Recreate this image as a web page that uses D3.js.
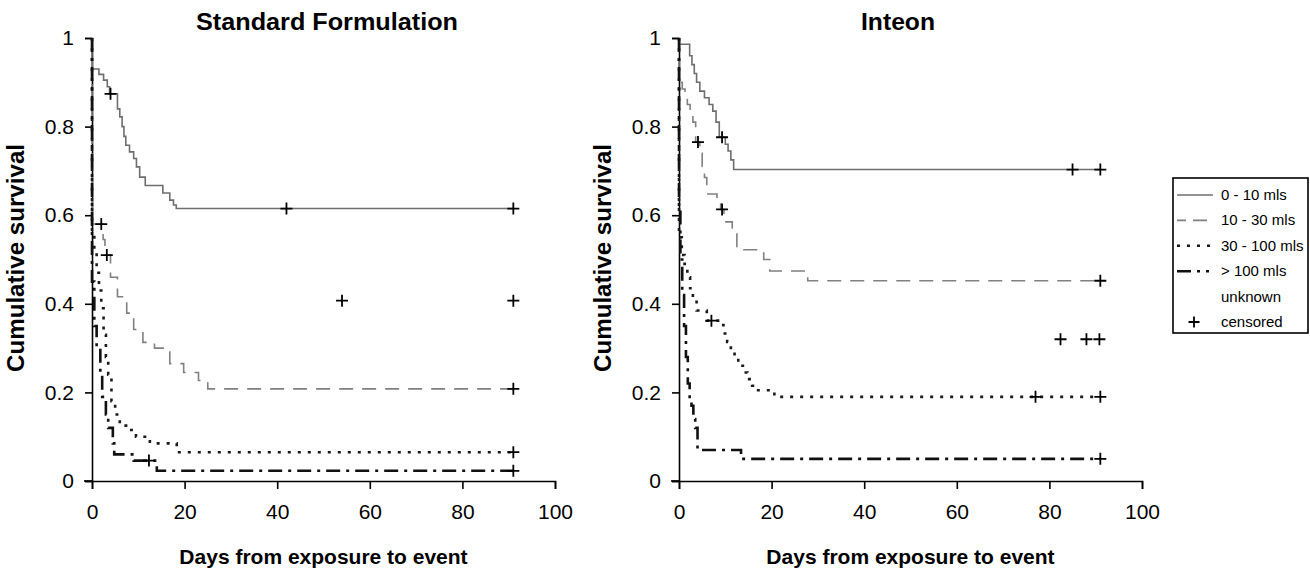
<!DOCTYPE html>
<html><head><meta charset="utf-8">
<script src="https://cdn.jsdelivr.net/npm/d3@7"></script>
<style>body{margin:0;background:#fff}svg{display:block}</style>
</head><body><svg id="chart" width="1310" height="575"></svg>
<script>
// ---------- tick labels / categories ----------
const xTicks = [0, 20, 40, 60, 80, 100];
const yTicks = [0, 0.2, 0.4, 0.6, 0.8, 1];
const groups = ["0 - 10 mls", "10 - 30 mls", "30 - 100 mls", "> 100 mls", "unknown"];
const panelTitles = ["Standard Formulation", "Inteon"];
const followUpEnd = 91;

// ---------- Standard Formulation ----------
const sfA_t = [0, 1.5, 2.5, 3.3, 3.8, 5.5, 6.0, 6.5, 6.9, 7.3, 8.1, 9.0, 9.6, 10.3, 11.5, 15.3, 16.8, 17.6, 18.2];
const sfA_s = [0.93, 0.918, 0.905, 0.89, 0.874, 0.84, 0.822, 0.80, 0.778, 0.758, 0.743, 0.728, 0.709, 0.686, 0.667, 0.65, 0.634, 0.623, 0.615];
const sfA_ct = [4, 42, 91];
const sfA_cs = [0.874, 0.615, 0.615];

const sfB_t = [0, 2.4, 2.8, 4.0, 5.5, 7.5, 9.0, 11.0, 13.5, 16.8, 19.8, 23.0, 25.0];
const sfB_s = [0.58, 0.545, 0.51, 0.46, 0.416, 0.379, 0.342, 0.313, 0.30, 0.265, 0.245, 0.227, 0.208];
const sfB_ct = [2, 3.2, 91];
const sfB_cs = [0.58, 0.51, 0.208];

const sfC_t = [0, 0.5, 1.0, 1.5, 2.0, 2.5, 3.0, 3.5, 4.2, 5.0, 6.0, 8.0, 9.5, 12.5, 18.3];
const sfC_s = [0.56, 0.52, 0.47, 0.43, 0.39, 0.33, 0.28, 0.24, 0.18, 0.15, 0.125, 0.115, 0.10, 0.085, 0.065];
const sfC_ct = [91];
const sfC_cs = [0.065];

const sfD_t = [0, 0.5, 1.0, 1.8, 2.2, 3.0, 3.5, 4.5, 4.8, 9.0, 14.0];
const sfD_s = [0.45, 0.35, 0.30, 0.24, 0.19, 0.15, 0.12, 0.085, 0.06, 0.046, 0.023];
const sfD_ct = [12.3, 91];
const sfD_cs = [0.046, 0.023];

const sfU_ct = [54, 91];
const sfU_cs = [0.407, 0.407];

// ---------- Inteon ----------
const inA_t = [0, 2.3, 2.8, 3.3, 3.8, 4.5, 5.5, 6.5, 7.3, 8.0, 8.7, 10.0, 10.6, 11.2, 11.8];
const inA_s = [0.986, 0.96, 0.94, 0.92, 0.90, 0.88, 0.865, 0.85, 0.835, 0.81, 0.776, 0.76, 0.745, 0.725, 0.703];
const inA_ct = [9.3, 85, 91];
const inA_cs = [0.776, 0.703, 0.703];

const inB_t = [0, 0.7, 1.3, 1.8, 2.4, 3.0, 3.6, 4.5, 5.0, 5.5, 6.0, 8.2, 9.0, 9.7, 11.5, 12.5, 18.3, 19.6, 27.8];
const inB_s = [0.90, 0.885, 0.87, 0.85, 0.83, 0.81, 0.765, 0.74, 0.71, 0.685, 0.648, 0.63, 0.613, 0.585, 0.56, 0.522, 0.50, 0.474, 0.452];
const inB_ct = [4.1, 9.3, 91];
const inB_cs = [0.765, 0.613, 0.452];

const inC_t = [0, 0.6, 1.2, 1.8, 2.4, 3.0, 3.8, 6.0, 8.8, 9.6, 10.4, 11.2, 12.0, 12.8, 13.8, 14.8, 15.8, 16.8, 20.6];
const inC_s = [0.55, 0.51, 0.49, 0.46, 0.435, 0.41, 0.385, 0.362, 0.352, 0.333, 0.314, 0.295, 0.277, 0.26, 0.245, 0.23, 0.215, 0.205, 0.19];
const inC_ct = [7, 77, 91];
const inC_cs = [0.362, 0.19, 0.19];

const inD_t = [0, 0.3, 0.7, 1.1, 1.5, 1.9, 2.3, 2.7, 3.1, 3.5, 4.0, 13.4];
const inD_s = [0.62, 0.5, 0.42, 0.35, 0.28, 0.22, 0.185, 0.17, 0.14, 0.12, 0.07, 0.05];
const inD_ct = [91];
const inD_cs = [0.05];

const inU_ct = [82.4, 88, 90.8];
const inU_cs = [0.32, 0.32, 0.32];

// ---------- styles per group ----------
const styles = [
  {stroke: "#6e6e6e", width: 1.6, dash: null, legendDash: null},
  {stroke: "#808080", width: 1.6, dash: "14,9", legendDash: "9,7,14,9"},
  {stroke: "#1a1a1a", width: 2.6, dash: "3,7", legendDash: "3,7"},
  {stroke: "#111", width: 2.6, dash: "14,6,3,6", legendDash: "14,6,3,6,3,20"},
  null
];

const panels = [
  {title: panelTitles[0], x0: 92, x1: 555, titleX: 327, titleLen: 262, curves: [
    [sfA_t, sfA_s, sfA_ct, sfA_cs], [sfB_t, sfB_s, sfB_ct, sfB_cs],
    [sfC_t, sfC_s, sfC_ct, sfC_cs], [sfD_t, sfD_s, sfD_ct, sfD_cs], [null, null, sfU_ct, sfU_cs]]},
  {title: panelTitles[1], x0: 679, x1: 1142, titleX: 898, titleLen: 74, curves: [
    [inA_t, inA_s, inA_ct, inA_cs], [inB_t, inB_s, inB_ct, inB_cs],
    [inC_t, inC_s, inC_ct, inC_cs], [inD_t, inD_s, inD_ct, inD_cs], [null, null, inU_ct, inU_cs]]}
];

const svg = d3.select("#chart");
const yTop = 38, yBot = 481;
const FONT = "'Liberation Sans', Arial, Helvetica, sans-serif";

function plus(g, cx, cy, size) {
  g.append("path")
    .attr("d", `M${cx - size / 2},${cy}H${cx + size / 2}M${cx},${cy - size / 2}V${cy + size / 2}`)
    .attr("stroke", "#000").attr("stroke-width", 1.8).attr("fill", "none");
}

panels.forEach(p => {
  const x = d3.scaleLinear().domain([0, 100]).range([p.x0, p.x1]);
  const y = d3.scaleLinear().domain([0, 1]).range([yBot, yTop]);
  const g = svg.append("g");

  // axes
  const xAxis = d3.axisBottom(x).tickValues(xTicks).tickSize(8).tickPadding(15).tickFormat(d3.format("d"));
  const yAxis = d3.axisLeft(y).tickValues(yTicks).tickSize(7).tickPadding(11).tickFormat(d => d === 0 ? "0" : d === 1 ? "1" : d3.format(".1f")(d));
  const gx = g.append("g").attr("transform", `translate(0,${yBot})`).call(xAxis);
  const gy = g.append("g").attr("transform", `translate(${p.x0},0)`).call(yAxis);
  [gx, gy].forEach(a => {
    a.select(".domain").attr("stroke", "#000").attr("stroke-width", 1.6);
    a.selectAll(".tick line").attr("stroke", "#000").attr("stroke-width", 1.6);
    a.selectAll("text").attr("font-family", FONT).attr("font-size", 21).attr("fill", "#000");
  });
  g.append("line").attr("x1", p.x0 - 8).attr("x2", p.x0).attr("y1", yBot).attr("y2", yBot)
    .attr("stroke", "#000").attr("stroke-width", 1.6);

  // curves
  const line = d3.line().x(d => x(d[0])).y(d => y(d[1])).curve(d3.curveStepAfter);
  p.curves.forEach((c, i) => {
    const [ts, ss, cts, css] = c;
    if (ts) {
      const pts = [[0, 1]];
      ts.forEach((t, k) => pts.push([t, ss[k]]));
      pts.push([followUpEnd, ss[ss.length - 1]]);
      const st = styles[i];
      g.append("path").attr("d", line(pts)).attr("fill", "none")
        .attr("stroke", st.stroke).attr("stroke-width", st.width)
        .attr("stroke-dasharray", st.dash);
    }
    cts.forEach((t, k) => plus(g, x(t), y(css[k]), 12));
  });

  // titles
  g.append("text").attr("x", p.titleX).attr("y", 30).attr("text-anchor", "middle")
    .attr("font-family", FONT).attr("font-weight", "bold").attr("font-size", 24)
    .attr("textLength", p.titleLen).attr("lengthAdjust", "spacingAndGlyphs").text(p.title);
  g.append("text").attr("x", x(50)).attr("y", 564).attr("text-anchor", "middle")
    .attr("font-family", FONT).attr("font-weight", "bold").attr("font-size", 21).text("Days from exposure to event");
  g.append("text").attr("transform", `translate(${p.x0 - 68},258) rotate(-90)`).attr("text-anchor", "middle")
    .attr("font-family", FONT).attr("font-weight", "bold").attr("font-size", 23)
    .attr("textLength", 228).attr("lengthAdjust", "spacingAndGlyphs").text("Cumulative survival");
});

// ---------- legend ----------
const lg = svg.append("g");
lg.append("rect").attr("x", 1173).attr("y", 178).attr("width", 135).attr("height", 155)
  .attr("fill", "none").attr("stroke", "#000").attr("stroke-width", 1.6);
const legendLabels = groups.concat(["censored"]);
const ly = d3.scalePoint().domain(legendLabels).range([195, 322]);
legendLabels.forEach((lab, i) => {
  const yy = ly(lab);
  if (i < 4) {
    const st = styles[i];
    lg.append("line").attr("x1", 1177).attr("x2", 1213).attr("y1", yy).attr("y2", yy)
      .attr("stroke", st.stroke).attr("stroke-width", st.width).attr("stroke-dasharray", st.legendDash);
  } else if (lab === "censored") {
    plus(lg, 1194, yy, 11);
  }
  lg.append("text").attr("x", 1221).attr("y", yy + 5).attr("font-family", FONT)
    .attr("font-size", 15).attr("fill", "#000").text(lab);
});
</script></body></html>
